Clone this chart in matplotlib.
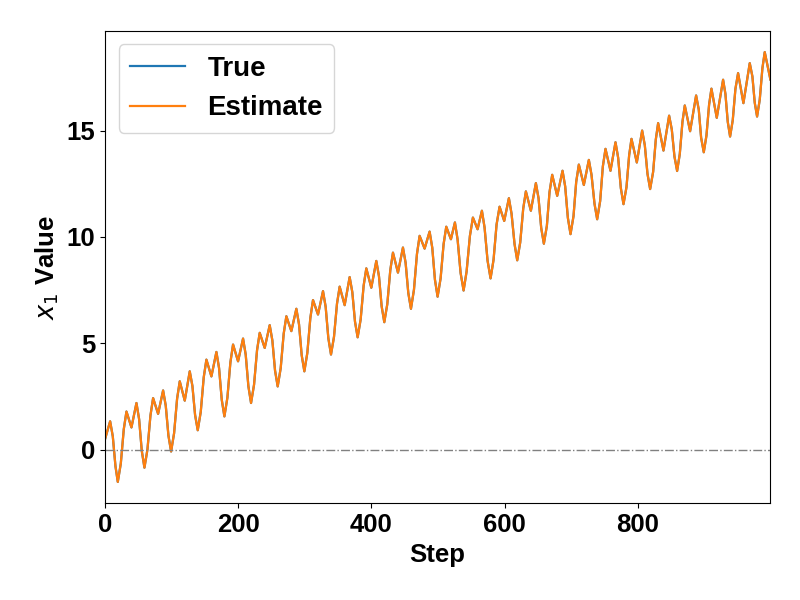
import matplotlib
matplotlib.use('Agg')
import matplotlib.pyplot as plt

plt.rcParams['font.family'] = ['Liberation Sans', 'DejaVu Sans']
plt.rcParams['font.size'] = 18.5

# values (peaks, dips, troughs and slope points)
steps = [0, 8, 12, 16, 19.5, 24, 28.5, 32.5, 40, 47.5, 51.5, 55.5,
         59.5, 64, 68.5, 72.5, 80, 87.5, 91.5, 95.5,
         99.5, 104, 108.5, 112.5, 120, 127.5, 131.5, 135.5,
         139.5, 144, 148.5, 152.5, 160, 167.5, 171.5, 175.5,
         179.5, 184, 188.5, 192.5, 200, 207.5, 211.5, 215.5,
         219.5, 224, 228.5, 232.5, 240, 247.5, 251.5, 255.5,
         259.5, 264, 268.5, 272.5, 280, 287.5, 291.5, 295.5,
         299.5, 304, 308.5, 312.5, 320, 327.5, 331.5, 335.5,
         339.5, 344, 348.5, 352.5, 360, 367.5, 371.5, 375.5,
         379.5, 384, 388.5, 392.5, 400, 407.5, 411.5, 415.5,
         419.5, 424, 428.5, 432.5, 440, 447.5, 451.5, 455.5,
         459.5, 464, 468.5, 472.5, 480, 487.5, 491.5, 495.5,
         499.5, 504, 508.5, 512.5, 519.5, 525.5, 529.5, 534,
         538.5, 543, 548, 552.5, 559.5, 566, 570, 574.5,
         579, 583.5, 588, 592.5, 599.5, 606.5, 610.5, 615,
         619, 623.5, 628, 632, 639.5, 647, 651, 655,
         659, 663.5, 667.5, 671.5, 679, 687, 691, 695,
         699, 703.5, 707.5, 711.5, 719, 726.5, 730.5, 735,
         739, 743.5, 747.5, 751.5, 759, 766.5, 770.5, 774.5,
         778.5, 783, 787, 790.5, 798.5, 806.5, 810.5, 814.5,
         818.5, 823, 827, 830.5, 838.5, 847, 851, 855,
         859, 863, 867, 870.5, 878.5, 887.5, 891.5, 895,
         899, 903, 907, 910.5, 918.5, 928, 931.5, 935,
         938.5, 942.5, 946.5, 950.5, 958.5, 968, 972, 975.5,
         979, 983, 987, 990.5, 999]

x1_true = [0.45, 1.33, 0.62, -0.78, -1.52, -0.66, 0.96, 1.79, 1.04, 2.19, 1.43, -0.06,
           -0.85, 0.0, 1.60, 2.42, 1.68, 2.78, 2.06, 0.66,
           -0.09, 0.77, 2.39, 3.21, 2.30, 3.68, 2.99, 1.63,
           0.91, 1.77, 3.40, 4.23, 3.44, 4.59, 3.83, 2.35,
           1.56, 2.44, 4.10, 4.94, 4.15, 5.22, 4.46, 2.98,
           2.19, 3.05, 4.67, 5.49, 4.78, 5.85, 5.13, 3.72,
           2.97, 3.83, 5.45, 6.27, 5.57, 6.62, 5.89, 4.44,
           3.68, 4.55, 6.19, 7.03, 6.35, 7.45, 6.71, 5.24,
           4.47, 5.30, 6.86, 7.66, 6.79, 8.11, 7.40, 6.02,
           5.28, 6.12, 7.71, 8.52, 7.61, 8.87, 8.15, 6.74,
           5.99, 6.84, 8.44, 9.26, 8.32, 9.50, 8.78, 7.37,
           6.62, 7.51, 9.19, 10.05, 9.45, 10.25, 9.49, 7.99,
           7.19, 8.05, 9.66, 10.48, 9.89, 10.68, 9.88, 8.31,
           7.48, 8.37, 10.05, 10.91, 10.36, 11.23, 10.44, 8.88,
           8.05, 8.93, 10.58, 11.42, 10.75, 11.82, 11.09, 9.66,
           8.90, 9.74, 11.33, 12.14, 11.23, 12.53, 11.82, 10.42,
           9.68, 10.52, 12.11, 12.92, 11.93, 13.11, 12.37, 10.90,
           10.13, 10.98, 12.58, 13.40, 12.44, 13.62, 12.92, 11.56,
           10.83, 11.69, 13.31, 14.14, 13.11, 14.45, 13.72, 12.30,
           11.54, 12.34, 13.84, 14.61, 13.50, 15.00, 14.31, 12.97,
           12.25, 13.06, 14.58, 15.35, 14.06, 15.70, 15.05, 13.78,
           13.10, 13.90, 15.41, 16.18, 14.97, 16.65, 15.98, 14.67,
           13.98, 14.76, 16.22, 16.97, 15.60, 17.39, 16.72, 15.41,
           14.72, 15.49, 16.96, 17.70, 16.29, 18.17, 17.54, 16.31,
           15.66, 16.45, 17.93, 18.69, 17.40]

# the estimate sits on top of the true curve (differences under a pixel)
x1_est = list(x1_true)

fig, ax = plt.subplots(figsize=(8, 6), dpi=100)
fig.subplots_adjust(left=0.131, right=0.963, top=0.949, bottom=0.161)

ax.plot(steps, x1_true, color='#1f77b4', lw=1.6, label='True')
ax.plot(steps, x1_est, color='#ff7f0e', lw=1.6, label='Estimate')
ax.axhline(0, color='gray', lw=1, ls='-.')

ax.set_xlim(0, 999)
ax.set_xlabel('Step', fontweight='bold')
ax.set_ylabel(r'$x_1$ Value', fontweight='bold')
ax.set_xticks([0, 200, 400, 600, 800])
ax.set_yticks([0, 5, 10, 15])
for lab in ax.get_xticklabels() + ax.get_yticklabels():
    lab.set_fontweight('bold')

leg = ax.legend(loc='upper left', fontsize=20)
for t in leg.get_texts():
    t.set_fontweight('bold')

plt.savefig('out.png', dpi=100)
